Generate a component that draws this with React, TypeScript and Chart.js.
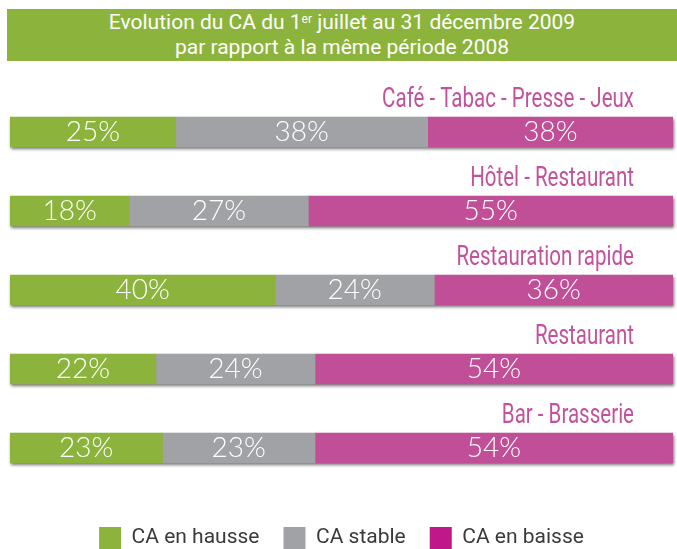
import React, { useEffect, useRef } from "react";
import { Chart, registerables } from "chart.js";

Chart.register(...registerables);

const categories = [
  "Café - Tabac - Presse - Jeux",
  "Hôtel - Restaurant",
  "Restauration rapide",
  "Restaurant",
  "Bar - Brasserie",
];
const seriesNames = ["CA en hausse", "CA stable", "CA en baisse"];
const hausse = [25, 18, 40, 22, 23];
const stable = [38, 27, 24, 24, 23];
const baisse = [38, 55, 36, 54, 54];
const barColors = ["#8cb43c", "#a1a2a6", "#c04f98"];
const legendColors = ["#8cb43c", "#a1a2a6", "#c0188a"];
const titleLine1a = "Evolution du CA du 1";
const titleSup = "er";
const titleLine1b = " juillet au 31 décembre 2009";
const titleLine2 = "par rapport à la même période 2008";

const shadowPlugin = {
  id: "barShadow",
  beforeDatasetsDraw(chart: any) {
    const ctx = chart.ctx;
    const area = chart.chartArea;
    const metas = chart.data.datasets.map((_: any, d: number) => chart.getDatasetMeta(d));
    const n = chart.data.labels.length;
    ctx.save();
    ctx.shadowColor = "rgba(0,0,0,0.55)";
    ctx.shadowBlur = 3;
    ctx.shadowOffsetX = 1;
    ctx.shadowOffsetY = 2;
    ctx.fillStyle = "#a1a2a6";
    for (let i = 0; i < n; i++) {
      let left = Infinity;
      let right = -Infinity;
      let top = 0;
      let h = 0;
      metas.forEach((m: any) => {
        const el = m.data[i];
        const p = el.getProps(["x", "y", "base", "height"], true);
        left = Math.min(left, p.base, p.x);
        right = Math.max(right, p.base, p.x);
        top = p.y - p.height / 2;
        h = p.height;
      });
      right = Math.min(right, area.right);
      ctx.fillRect(left, top, right - left, h);
    }
    ctx.restore();
  },
  afterDatasetsDraw(chart: any) {
    const ctx = chart.ctx;
    const area = chart.chartArea;
    ctx.save();
    // values inside bars
    ctx.fillStyle = "#ffffff";
    ctx.font = "300 28px Lato";
    ctx.textAlign = "center";
    ctx.textBaseline = "alphabetic";
    chart.data.datasets.forEach((ds: any, d: number) => {
      const meta = chart.getDatasetMeta(d);
      meta.data.forEach((el: any, i: number) => {
        const p = el.getProps(["x", "y", "base"], true);
        const a = Math.min(p.x, p.base);
        const b = Math.min(Math.max(p.x, p.base), area.right);
        ctx.fillText(ds.data[i] + "%", (a + b) / 2, p.y + 9);
      });
    });
    // category labels above bars (condensed by horizontal scaling)
    ctx.fillStyle = "#c2529c";
    ctx.font = "27px Roboto";
    ctx.textAlign = "right";
    const sx = 0.76;
    const meta0 = chart.getDatasetMeta(0);
    meta0.data.forEach((el: any, i: number) => {
      const p = el.getProps(["y"], true);
      ctx.save();
      ctx.translate(area.right - 39, p.y - 25);
      ctx.scale(sx, 1);
      ctx.fillText(chart.data.labels[i], 0, 0);
      ctx.restore();
    });
    ctx.restore();
  },
};

export default function App() {
  const ref = useRef<HTMLCanvasElement | null>(null);

  useEffect(() => {
    if (!ref.current) return;
    const data = [hausse, stable, baisse];
    const chart = new Chart(ref.current, {
      type: "bar",
      data: {
        labels: categories,
        datasets: seriesNames.map((name, k) => ({
          label: name,
          data: data[k],
          backgroundColor: barColors[k],
          borderWidth: 0,
          barThickness: 30,
        })),
      },
      options: {
        indexAxis: "y",
        animation: false,
        responsive: false,
        events: [],
        layout: { padding: { left: 10, right: 4, top: 92.5, bottom: 0 } },
        scales: {
          x: {
            stacked: true,
            min: 0,
            max: 100,
            display: true,
            grid: { display: false },
            border: { display: false },
            ticks: { display: false },
            afterFit: (s: any) => {
              s.height = 15.5;
            },
          },
          y: {
            stacked: true,
            display: false,
          },
        },
        plugins: {
          title: { display: false },
          tooltip: { enabled: false },
          legend: {
            display: true,
            position: "bottom",
            labels: {
              boxWidth: 22,
              boxHeight: 22,
              padding: 24,
              color: "#3a3a3a",
              font: { family: "Roboto", size: 21 },
              generateLabels: (c: any) =>
                c.data.datasets.map((ds: any, k: number) => ({
                  text: ds.label,
                  fillStyle: legendColors[k],
                  strokeStyle: legendColors[k],
                  lineWidth: 0,
                  hidden: false,
                  datasetIndex: k,
                  fontColor: "#3a3a3a",
                })),
            },
          },
        },
      },
      plugins: [shadowPlugin],
    } as any);
    return () => chart.destroy();
  }, []);

  return (
    <div
      style={{
        position: "absolute",
        left: 0,
        top: 0,
        width: 677,
        height: 549,
        overflow: "hidden",
        background: "#ffffff",
      }}
    >
      <canvas
        ref={ref}
        width={677}
        height={559}
        style={{ position: "absolute", left: 0, top: 0, width: 677, height: 559 }}
      />
      <div
        style={{
          position: "absolute",
          left: 7,
          top: 9,
          width: 670,
          height: 52,
          background: "#8cb43c",
          color: "#ffffff",
          fontFamily: "Roboto, sans-serif",
          fontSize: 21,
          lineHeight: "25px",
          textAlign: "center",
          paddingTop: 1,
          boxSizing: "border-box",
        }}
      >
        <div>
          {titleLine1a}
          <sup style={{ fontSize: 12, verticalAlign: "top", lineHeight: "18px" }}>{titleSup}</sup>
          {titleLine1b}
        </div>
        <div>{titleLine2}</div>
      </div>
    </div>
  );
}
